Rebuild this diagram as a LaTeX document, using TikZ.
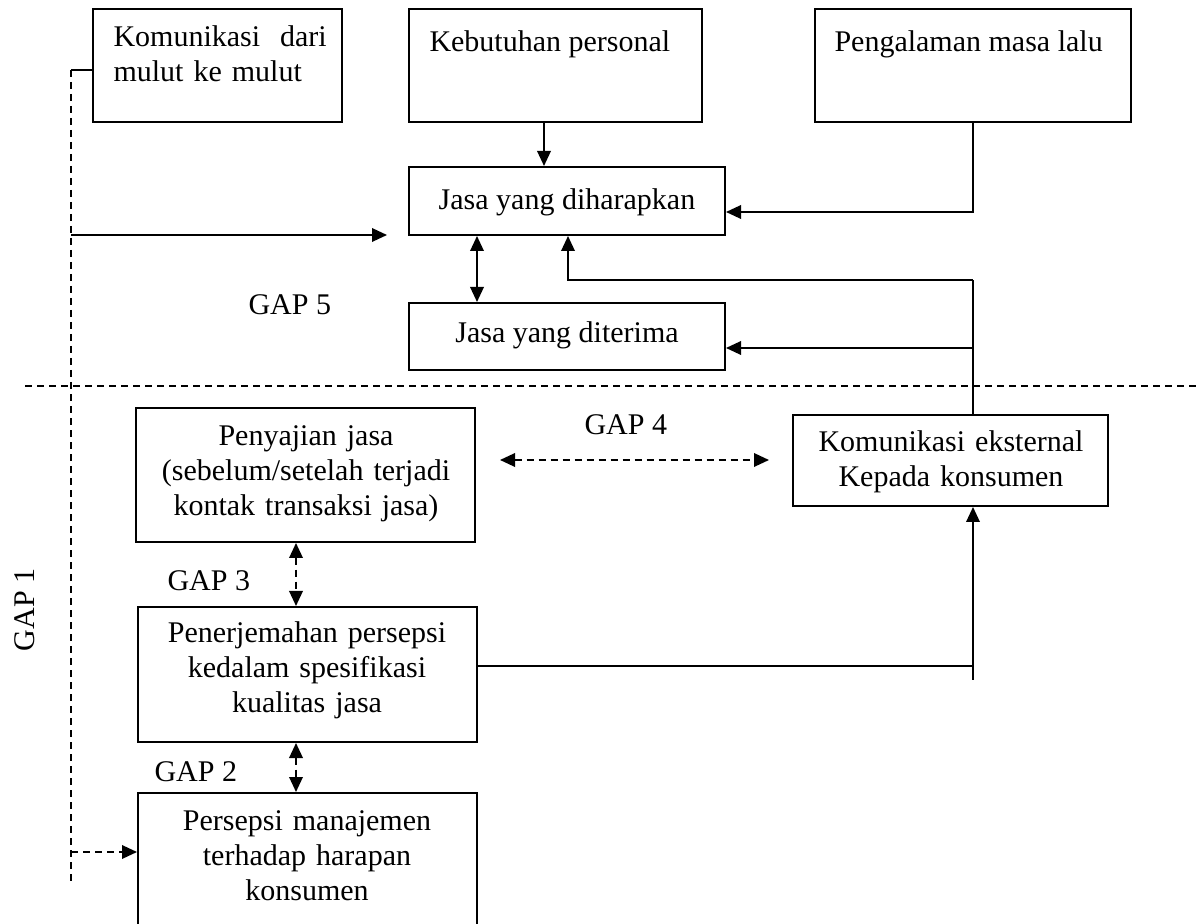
\documentclass[tikz,border=0pt]{standalone}
\usepackage{fontspec}
\setmainfont{Liberation Serif}
\usetikzlibrary{arrows.meta,fit}
\begin{document}
\begin{tikzpicture}[x=0.4pt,y=-0.4pt,
  box/.style={draw,line width=0.8pt,rectangle,inner sep=0pt},
  txt/.style={font=\fontsize{12}{14}\selectfont,inner sep=0pt},
  mtxt/.style={txt,align=center,text width=200pt},
  ltxt/.style={txt,align=left,text width=120pt},
  ln/.style={line width=0.75pt},
  tip/.tip={Triangle[length=6pt,width=5.4pt]},
  arr/.style={ln,-tip},
  darr/.style={ln,tip-tip},
  dsh/.style={ln,dash pattern=on 2.8pt off 2pt},
]
\useasboundingbox (0,0) rectangle (1199,924);

% boxes of the upper (consumer) part
\node[box,fit={(93,9) (342,122)}]   (kom) {};
\node[box,fit={(409,9) (702,122)}]  (keb) {};
\node[box,fit={(815,9) (1131,122)}] (pen) {};
\node[box,fit={(409,167) (725,235)}] (exp) {};
\node[box,fit={(409,303) (725,370)}] (rec) {};

% boxes of the lower (provider) part
\node[box,fit={(136,408) (475,542)}] (saj) {};
\node[box,fit={(793,415) (1108,506)}] (kek) {};
\node[box,fit={(138,607) (477,742)}] (ter) {};
\begin{scope}
  \clip (0,0) rectangle (1199,924);
  \node[box,fit={(138,793) (477,980)}] (per) {};
\end{scope}

% texts
\node[ltxt,anchor=base west] (tkom) at (113,47) {Komunikasi\ \ dari\\mulut ke mulut};
\node[txt,anchor=base west] (tkeb) at (429,52) {Kebutuhan personal};
\node[txt,anchor=base west] (tpen) at (834,52) {Pengalaman masa lalu};
\node[txt,anchor=base] (texp) at (567,210) {Jasa yang diharapkan};
\node[txt,anchor=base] (trec) at (567,343) {Jasa yang diterima};
\node[mtxt,anchor=base] (tsaj) at (306,446) {Penyajian jasa\\(sebelum/setelah terjadi\\kontak transaksi jasa)};
\node[mtxt,anchor=base] (tkek) at (951,452) {Komunikasi eksternal\\Kepada konsumen};
\node[mtxt,anchor=base] (tter) at (307,643) {Penerjemahan persepsi\\kedalam spesifikasi\\kualitas jasa};
\node[mtxt,anchor=base] (tper) at (307,830) {Persepsi manajemen\\terhadap harapan\\konsumen};

% gap labels
\node[txt,anchor=base west] (g5) at (248,315) {GAP 5};
\node[txt,anchor=base west] (g4) at (584,435) {GAP 4};
\node[txt,anchor=base west] (g3) at (167,591) {GAP 3};
\node[txt,anchor=base west] (g2) at (154,781) {GAP 2};
\node[txt,rotate=90] (g1) at (25,610) {GAP 1};

% helper points
\coordinate (wtop) at (71,70);
\coordinate (wbot) at (71,883);
\coordinate (wmid) at (71,235);
\coordinate (wend) at (387,235);
\coordinate (wper) at (71,852);
\coordinate (kx) at (544,0);
\coordinate (py) at (973,212);
\coordinate (rx) at (973,280);
\coordinate (ax) at (568,280);
\coordinate (ry) at (973,348);
\coordinate (tx) at (973,666);
\coordinate (tend) at (973,680);
\coordinate (dx) at (477,0);
\coordinate (vx) at (296,0);
\coordinate (sepl) at (25,386);
\coordinate (sepr) at (1199,386);
\coordinate (g4l) at (500,460);
\coordinate (g4r) at (769,460);

% word of mouth
\draw[ln] (kom.west |- wtop) -- (wtop);
\draw[dsh] (wtop) -- (wbot);
\draw[arr] (wmid) -- (wend);
\draw[dsh,-tip] (wper) -- (per.west |- wper);

% expected service inputs
\draw[arr] (keb.south -| kx) -- (exp.north -| kx);
\draw[arr] (pen.south) -- (py) -- (exp.east |- py);
\draw[darr] (exp.south -| dx) -- (rec.north -| dx);

% external communication feedback
\draw[ln] (kek.north -| rx) -- (rx);
\draw[arr] (rx) -- (ax) -- (exp.south -| ax);
\draw[arr] (ry) -- (rec.east |- ry);

% separation line
\draw[dsh] (sepl) -- (sepr);

% provider side
\draw[dsh,tip-tip] (g4l) -- (g4r);
\draw[dsh,tip-tip] (saj.south -| vx) -- (ter.north -| vx);
\draw[dsh,tip-tip] (ter.south -| vx) -- (per.north -| vx);
\draw[ln] (ter.east |- tx) -- (tx) -- (tend);
\draw[arr] (tx) -- (kek.south -| tx);
\end{tikzpicture}
\end{document}
